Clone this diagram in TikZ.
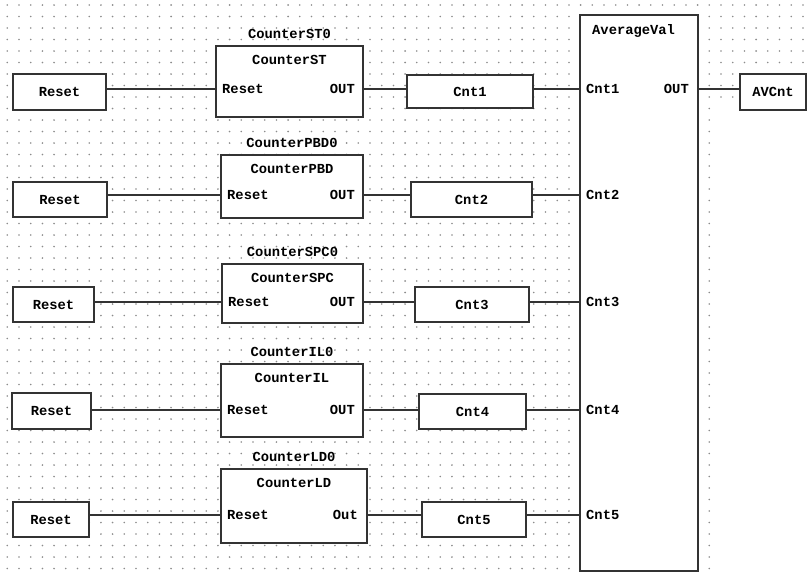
\documentclass[tikz,border=0pt]{standalone}
\usepackage{fontspec}
\setmonofont{Liberation Mono}
\usepackage{tikz}
\usetikzlibrary{positioning}

\begin{document}
\begin{tikzpicture}[
    x=1pt, y=-1pt,
    every node/.style={font=\ttfamily\bfseries\fontsize{13.8}{15}\selectfont, inner sep=0pt},
    blk/.style={rectangle, draw=black!80, line width=1.8pt, fill=white},
    resetbox/.style={blk, minimum height=35pt},
    varbox/.style={blk, minimum height=35pt},
    fbox/.style={blk},
    inst/.style={above=6pt of #1},
    fbtitle/.style={below=10pt of #1},
    pinl/.style={anchor=west},
    pinr/.style={anchor=east},
    wire/.style={draw=black!80, line width=1.3pt},
    gdot/.style={fill=black!45},
]
\useasboundingbox (0,0) rectangle (809,573);

% dotted editor grid
\foreach \i in {0,...,60}
    \foreach \j in {0,...,49}
        \fill[gdot] ({7.3+11.7*\i},{5+11.5*\j}) circle (0.9pt);
\foreach \i in {61,...,68}
    \foreach \j in {0,...,8}
        \fill[gdot] ({7.3+11.7*\i},{5+11.5*\j}) circle (0.9pt);

% reset inputs
\node[resetbox, minimum width=93pt, minimum height=36pt] (rst1) at (59.5,92) {Reset};
\node[resetbox, minimum width=94pt] (rst2) at (60,199.5) {Reset};
\node[resetbox, minimum width=81pt] (rst3) at (53.5,304.5) {Reset};
\node[resetbox, minimum width=79pt, minimum height=36pt] (rst4) at (51.5,411) {Reset};
\node[resetbox, minimum width=76pt] (rst5) at (51,519.5) {Reset};

% counter blocks
\node[fbox, minimum width=147pt, minimum height=71pt] (ctr1) at (289.5,81.5) {};
\node[fbox, minimum width=142pt, minimum height=63pt] (ctr2) at (292,186.5) {};
\node[fbox, minimum width=141pt, minimum height=59pt] (ctr3) at (292.5,293.5) {};
\node[fbox, minimum width=142pt, minimum height=73pt] (ctr4) at (292,400.5) {};
\node[fbox, minimum width=146pt, minimum height=74pt] (ctr5) at (294,506) {};

\node[inst=ctr1] (ctr1inst) {CounterST0};
\node[inst=ctr2] (ctr2inst) {CounterPBD0};
\node[inst=ctr3] (ctr3inst) {CounterSPC0};
\node[inst=ctr4] (ctr4inst) {CounterIL0};
\node[inst=ctr5] (ctr5inst) {CounterLD0};

\node[fbtitle=ctr1.north] (ctr1name) {CounterST};
\node[fbtitle=ctr2.north] (ctr2name) {CounterPBD};
\node[fbtitle=ctr3.north] (ctr3name) {CounterSPC};
\node[fbtitle=ctr4.north] (ctr4name) {CounterIL};
\node[fbtitle=ctr5.north] (ctr5name) {CounterLD};

\node[pinl] (ctr1in) at (222,89) {Reset};
\node[pinl] (ctr2in) at (227,195) {Reset};
\node[pinl] (ctr3in) at (228,302) {Reset};
\node[pinl] (ctr4in) at (227,410) {Reset};
\node[pinl] (ctr5in) at (227,515) {Reset};

\node[pinr] (ctr1out) at (355,89) {OUT};
\node[pinr] (ctr2out) at (355,195) {OUT};
\node[pinr] (ctr3out) at (355,302) {OUT};
\node[pinr] (ctr4out) at (355,410) {OUT};
\node[pinr] (ctr5out) at (358,515) {Out};

% counter variables
\node[varbox, minimum width=126pt, minimum height=33pt] (cnt1) at (470,91.5) {Cnt1};
\node[varbox, minimum width=121pt] (cnt2) at (471.5,199.5) {Cnt2};
\node[varbox, minimum width=114pt] (cnt3) at (472,304.5) {Cnt3};
\node[varbox, minimum width=107pt] (cnt4) at (472.5,411.5) {Cnt4};
\node[varbox, minimum width=104pt] (cnt5) at (474,519.5) {Cnt5};

% average block
\node[fbox, minimum width=118pt, minimum height=556pt] (avg) at (639,293) {};
\node[anchor=west] (avgname) at (592,31) {AverageVal};
\node[pinl] (avgin1) at (586,89) {Cnt1};
\node[pinl] (avgin2) at (586,195) {Cnt2};
\node[pinl] (avgin3) at (586,302) {Cnt3};
\node[pinl] (avgin4) at (586,410) {Cnt4};
\node[pinl] (avgin5) at (586,515) {Cnt5};
\node[pinr] (avgout) at (689,89) {OUT};

\node[varbox, minimum width=66pt, minimum height=36pt] (avcnt) at (773,92) {AVCnt};

% wiring
\foreach \k in {1,...,5} {
    \draw[wire] (rst\k.east |- ctr\k in) -- (ctr\k.west |- ctr\k in);
    \draw[wire] (ctr\k.east |- ctr\k out) -- (cnt\k.west |- ctr\k out);
    \draw[wire] (cnt\k.east |- avgin\k) -- (avg.west |- avgin\k);
}
\draw[wire] (avg.east |- avgout) -- (avcnt.west |- avgout);
\end{tikzpicture}
\end{document}
